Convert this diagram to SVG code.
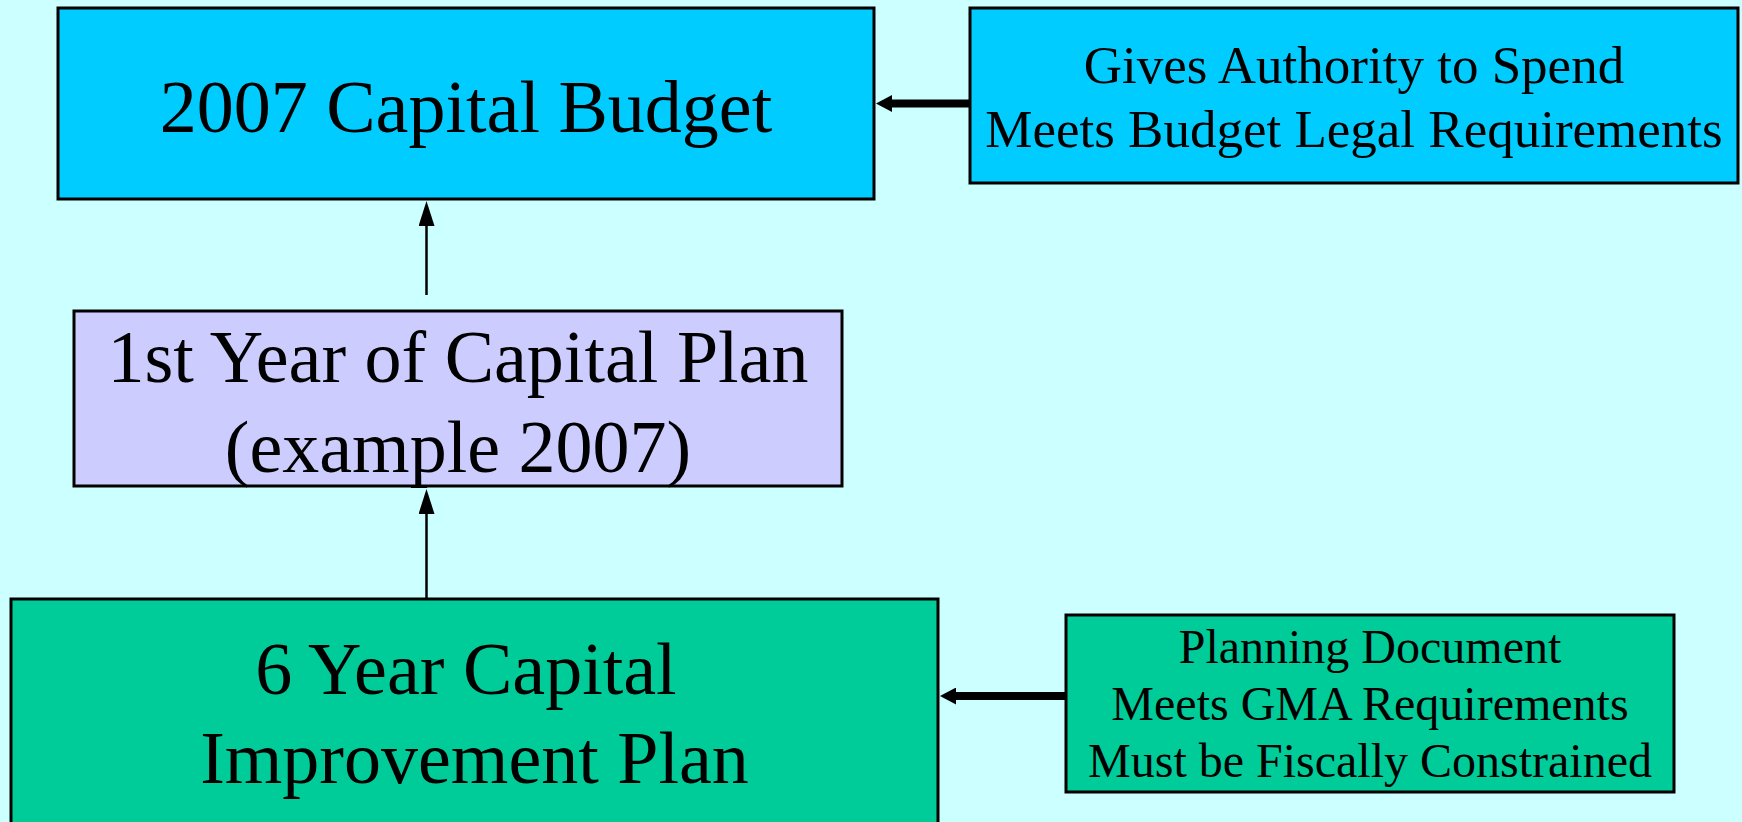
<svg xmlns="http://www.w3.org/2000/svg" width="1742" height="822" viewBox="0 0 1742 822">
<style>
text{font-family:"Liberation Serif","Times New Roman",serif;fill:#000;text-anchor:middle}
.box{stroke:#000;stroke-width:3}
.big{font-size:74px}
.mid{font-size:53px}
.sm{font-size:48px}
.thin{stroke:#000;stroke-width:2.5;fill:none}
.thick{stroke:#000;stroke-width:8;fill:none}
</style>
<defs>
<marker id="ah" viewBox="0 0 25 16" markerWidth="25" markerHeight="16" refX="0" refY="8" orient="auto" markerUnits="userSpaceOnUse"><path d="M0,0 L25,8 L0,16 z" fill="#000"/></marker>
<marker id="ahb" viewBox="0 0 16 17" markerWidth="16" markerHeight="17" refX="0" refY="8.5" orient="auto" markerUnits="userSpaceOnUse"><path d="M0,0 L16,8.5 L0,17 z" fill="#000"/></marker>
</defs>
<rect width="1742" height="822" fill="#CCFFFF"/>
<g id="budget">
<rect class="box" x="58" y="8" width="816" height="191" fill="#00CCFF"/>
<text class="big" x="466" y="132">2007 Capital Budget</text>
</g>
<g id="authority">
<rect class="box" x="970" y="8" width="768" height="175" fill="#00CCFF"/>
<text class="mid" x="1354" y="83">Gives Authority to Spend</text>
<text class="mid" x="1354" y="147">Meets Budget Legal Requirements</text>
</g>
<g id="firstyear">
<rect class="box" x="74" y="311" width="768" height="175" fill="#CCCCFF"/>
<text class="big" x="458" y="382">1st Year of Capital Plan</text>
<text class="big" x="458" y="472">(example 2007)</text>
</g>
<g id="sixyear">
<rect class="box" x="11" y="599" width="927" height="240" fill="#00CC99"/>
<text class="big" x="466" y="694">6 Year Capital</text>
<text class="big" x="474.5" y="783">Improvement Plan</text>
</g>
<g id="planning">
<rect class="box" x="1066" y="615" width="608" height="177" fill="#00CC99"/>
<text class="sm" x="1370" y="663">Planning Document</text>
<text class="sm" x="1370" y="720">Meets GMA Requirements</text>
<text class="sm" x="1370" y="777">Must be Fiscally Constrained</text>
</g>
<g id="connectors">
<line class="thin" x1="426.5" y1="295" x2="426.5" y2="226" marker-end="url(#ah)"/>
<line class="thin" x1="426.5" y1="598" x2="426.5" y2="514" marker-end="url(#ah)"/>
<line class="thick" x1="970" y1="103.5" x2="892" y2="103.5" marker-end="url(#ahb)"/>
<line class="thick" x1="1066" y1="696" x2="956" y2="696" marker-end="url(#ahb)"/>
</g>
</svg>
